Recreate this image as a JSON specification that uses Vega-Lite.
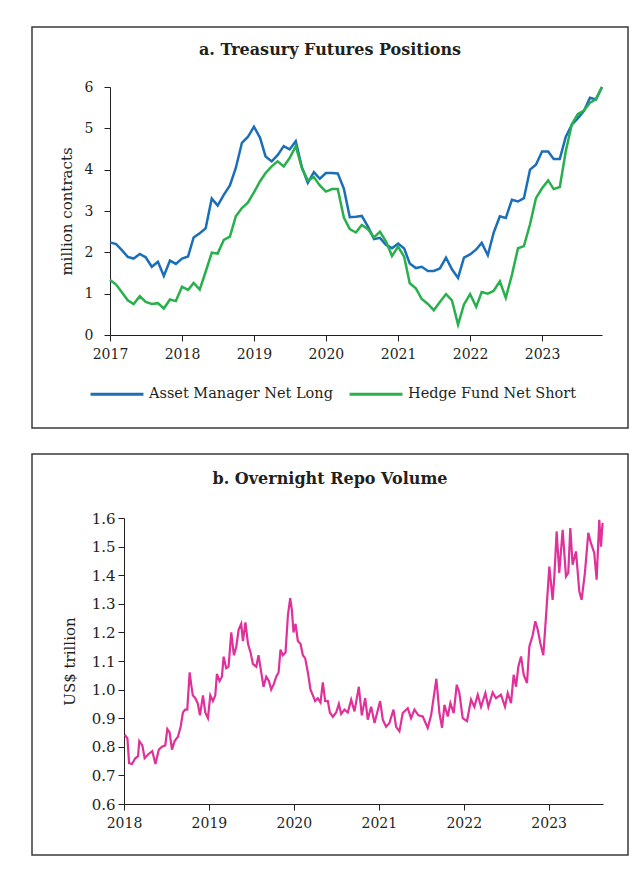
{
  "$schema": "https://vega.github.io/schema/vega-lite/v6.json",
  "background": "white",
  "padding": {"left": 31, "top": 26, "right": 5, "bottom": 5},
  "spacing": 24,
  "config": {
    "view": {"stroke": "#3a3a3a", "strokeWidth": 1.5},
    "font": "DejaVu Serif",
    "axis": {"labelFont": "DejaVu Serif", "titleFont": "DejaVu Serif", "labelColor": "#231f20", "titleColor": "#231f20", "domainColor": "#231f20", "tickColor": "#231f20", "grid": false, "titleFontWeight": "normal", "domainWidth": 1, "tickWidth": 1, "labelFlush": false},
    "title": {"font": "DejaVu Serif", "fontWeight": "bold", "color": "#231f20", "fontSize": 16, "anchor": "middle"}
  },
  "vconcat": [
    {
      "width": 596,
      "height": 401,
      "title": {"text": "a. Treasury Futures Positions", "offset": -44, "baseline": "alphabetic"},
      "data": {"values": [
        {"d": "2017-01-01", "Asset Manager Net Long": 2.24, "Hedge Fund Net Short": 1.33},
        {"d": "2017-02-01", "Asset Manager Net Long": 2.20, "Hedge Fund Net Short": 1.22},
        {"d": "2017-03-01", "Asset Manager Net Long": 2.06, "Hedge Fund Net Short": 1.04},
        {"d": "2017-04-01", "Asset Manager Net Long": 1.89, "Hedge Fund Net Short": 0.84},
        {"d": "2017-05-01", "Asset Manager Net Long": 1.85, "Hedge Fund Net Short": 0.75},
        {"d": "2017-06-01", "Asset Manager Net Long": 1.96, "Hedge Fund Net Short": 0.94},
        {"d": "2017-07-01", "Asset Manager Net Long": 1.88, "Hedge Fund Net Short": 0.80},
        {"d": "2017-08-01", "Asset Manager Net Long": 1.65, "Hedge Fund Net Short": 0.75},
        {"d": "2017-09-01", "Asset Manager Net Long": 1.77, "Hedge Fund Net Short": 0.77},
        {"d": "2017-10-01", "Asset Manager Net Long": 1.43, "Hedge Fund Net Short": 0.64},
        {"d": "2017-11-01", "Asset Manager Net Long": 1.80, "Hedge Fund Net Short": 0.86},
        {"d": "2017-12-01", "Asset Manager Net Long": 1.72, "Hedge Fund Net Short": 0.82},
        {"d": "2018-01-01", "Asset Manager Net Long": 1.85, "Hedge Fund Net Short": 1.17},
        {"d": "2018-02-01", "Asset Manager Net Long": 1.90, "Hedge Fund Net Short": 1.09},
        {"d": "2018-03-01", "Asset Manager Net Long": 2.36, "Hedge Fund Net Short": 1.26},
        {"d": "2018-04-01", "Asset Manager Net Long": 2.46, "Hedge Fund Net Short": 1.10},
        {"d": "2018-05-01", "Asset Manager Net Long": 2.58, "Hedge Fund Net Short": 1.53},
        {"d": "2018-06-01", "Asset Manager Net Long": 3.30, "Hedge Fund Net Short": 1.99},
        {"d": "2018-07-01", "Asset Manager Net Long": 3.13, "Hedge Fund Net Short": 1.97},
        {"d": "2018-08-01", "Asset Manager Net Long": 3.39, "Hedge Fund Net Short": 2.30},
        {"d": "2018-09-01", "Asset Manager Net Long": 3.62, "Hedge Fund Net Short": 2.38},
        {"d": "2018-10-01", "Asset Manager Net Long": 4.04, "Hedge Fund Net Short": 2.87},
        {"d": "2018-11-01", "Asset Manager Net Long": 4.65, "Hedge Fund Net Short": 3.07},
        {"d": "2018-12-01", "Asset Manager Net Long": 4.79, "Hedge Fund Net Short": 3.20},
        {"d": "2019-01-01", "Asset Manager Net Long": 5.04, "Hedge Fund Net Short": 3.45},
        {"d": "2019-02-01", "Asset Manager Net Long": 4.77, "Hedge Fund Net Short": 3.72},
        {"d": "2019-03-01", "Asset Manager Net Long": 4.32, "Hedge Fund Net Short": 3.92},
        {"d": "2019-04-01", "Asset Manager Net Long": 4.20, "Hedge Fund Net Short": 4.08},
        {"d": "2019-05-01", "Asset Manager Net Long": 4.35, "Hedge Fund Net Short": 4.20},
        {"d": "2019-06-01", "Asset Manager Net Long": 4.57, "Hedge Fund Net Short": 4.08},
        {"d": "2019-07-01", "Asset Manager Net Long": 4.49, "Hedge Fund Net Short": 4.28},
        {"d": "2019-08-01", "Asset Manager Net Long": 4.69, "Hedge Fund Net Short": 4.57},
        {"d": "2019-09-01", "Asset Manager Net Long": 4.06, "Hedge Fund Net Short": 4.04},
        {"d": "2019-10-01", "Asset Manager Net Long": 3.68, "Hedge Fund Net Short": 3.74},
        {"d": "2019-11-01", "Asset Manager Net Long": 3.94, "Hedge Fund Net Short": 3.82},
        {"d": "2019-12-01", "Asset Manager Net Long": 3.78, "Hedge Fund Net Short": 3.62},
        {"d": "2020-01-01", "Asset Manager Net Long": 3.92, "Hedge Fund Net Short": 3.47},
        {"d": "2020-02-01", "Asset Manager Net Long": 3.92, "Hedge Fund Net Short": 3.53},
        {"d": "2020-03-01", "Asset Manager Net Long": 3.91, "Hedge Fund Net Short": 3.53},
        {"d": "2020-04-01", "Asset Manager Net Long": 3.54, "Hedge Fund Net Short": 2.84},
        {"d": "2020-05-01", "Asset Manager Net Long": 2.85, "Hedge Fund Net Short": 2.56},
        {"d": "2020-06-01", "Asset Manager Net Long": 2.86, "Hedge Fund Net Short": 2.48},
        {"d": "2020-07-01", "Asset Manager Net Long": 2.88, "Hedge Fund Net Short": 2.66},
        {"d": "2020-08-01", "Asset Manager Net Long": 2.62, "Hedge Fund Net Short": 2.56},
        {"d": "2020-09-01", "Asset Manager Net Long": 2.32, "Hedge Fund Net Short": 2.36},
        {"d": "2020-10-01", "Asset Manager Net Long": 2.35, "Hedge Fund Net Short": 2.50},
        {"d": "2020-11-01", "Asset Manager Net Long": 2.18, "Hedge Fund Net Short": 2.26},
        {"d": "2020-12-01", "Asset Manager Net Long": 2.10, "Hedge Fund Net Short": 1.91},
        {"d": "2021-01-01", "Asset Manager Net Long": 2.21, "Hedge Fund Net Short": 2.14},
        {"d": "2021-02-01", "Asset Manager Net Long": 2.09, "Hedge Fund Net Short": 1.89},
        {"d": "2021-03-01", "Asset Manager Net Long": 1.73, "Hedge Fund Net Short": 1.25},
        {"d": "2021-04-01", "Asset Manager Net Long": 1.62, "Hedge Fund Net Short": 1.13},
        {"d": "2021-05-01", "Asset Manager Net Long": 1.65, "Hedge Fund Net Short": 0.87},
        {"d": "2021-06-01", "Asset Manager Net Long": 1.55, "Hedge Fund Net Short": 0.75},
        {"d": "2021-07-01", "Asset Manager Net Long": 1.55, "Hedge Fund Net Short": 0.60},
        {"d": "2021-08-01", "Asset Manager Net Long": 1.61, "Hedge Fund Net Short": 0.80},
        {"d": "2021-09-01", "Asset Manager Net Long": 1.87, "Hedge Fund Net Short": 0.99},
        {"d": "2021-10-01", "Asset Manager Net Long": 1.59, "Hedge Fund Net Short": 0.84},
        {"d": "2021-11-01", "Asset Manager Net Long": 1.38, "Hedge Fund Net Short": 0.25},
        {"d": "2021-12-01", "Asset Manager Net Long": 1.87, "Hedge Fund Net Short": 0.74},
        {"d": "2022-01-01", "Asset Manager Net Long": 1.95, "Hedge Fund Net Short": 0.99},
        {"d": "2022-02-01", "Asset Manager Net Long": 2.07, "Hedge Fund Net Short": 0.68},
        {"d": "2022-03-01", "Asset Manager Net Long": 2.23, "Hedge Fund Net Short": 1.04},
        {"d": "2022-04-01", "Asset Manager Net Long": 1.93, "Hedge Fund Net Short": 1.00},
        {"d": "2022-05-01", "Asset Manager Net Long": 2.48, "Hedge Fund Net Short": 1.07},
        {"d": "2022-06-01", "Asset Manager Net Long": 2.87, "Hedge Fund Net Short": 1.30},
        {"d": "2022-07-01", "Asset Manager Net Long": 2.83, "Hedge Fund Net Short": 0.90},
        {"d": "2022-08-01", "Asset Manager Net Long": 3.27, "Hedge Fund Net Short": 1.45},
        {"d": "2022-09-01", "Asset Manager Net Long": 3.23, "Hedge Fund Net Short": 2.10},
        {"d": "2022-10-01", "Asset Manager Net Long": 3.31, "Hedge Fund Net Short": 2.15},
        {"d": "2022-11-01", "Asset Manager Net Long": 4.00, "Hedge Fund Net Short": 2.68},
        {"d": "2022-12-01", "Asset Manager Net Long": 4.12, "Hedge Fund Net Short": 3.31},
        {"d": "2023-01-01", "Asset Manager Net Long": 4.44, "Hedge Fund Net Short": 3.55},
        {"d": "2023-02-01", "Asset Manager Net Long": 4.44, "Hedge Fund Net Short": 3.74},
        {"d": "2023-03-01", "Asset Manager Net Long": 4.26, "Hedge Fund Net Short": 3.53},
        {"d": "2023-04-01", "Asset Manager Net Long": 4.26, "Hedge Fund Net Short": 3.58},
        {"d": "2023-05-01", "Asset Manager Net Long": 4.79, "Hedge Fund Net Short": 4.44},
        {"d": "2023-06-01", "Asset Manager Net Long": 5.09, "Hedge Fund Net Short": 5.10},
        {"d": "2023-07-01", "Asset Manager Net Long": 5.24, "Hedge Fund Net Short": 5.34},
        {"d": "2023-08-01", "Asset Manager Net Long": 5.42, "Hedge Fund Net Short": 5.43},
        {"d": "2023-09-01", "Asset Manager Net Long": 5.74, "Hedge Fund Net Short": 5.62},
        {"d": "2023-10-01", "Asset Manager Net Long": 5.70, "Hedge Fund Net Short": 5.70},
        {"d": "2023-11-01", "Asset Manager Net Long": 6.00, "Hedge Fund Net Short": 6.00}
      ]},
      "transform": [{"fold": ["Asset Manager Net Long", "Hedge Fund Net Short"], "as": ["series", "value"]}],
      "mark": {"type": "line", "strokeWidth": 2.5, "clip": false},
      "encoding": {
        "x": {
          "field": "d", "type": "temporal",
          "scale": {"type": "utc", "domain": [{"year": 2017, "month": 1, "date": 1, "utc": true}, {"year": 2023, "month": 11, "date": 1, "utc": true}], "range": [78, 570], "nice": false},
          "axis": {"title": null, "offset": -93, "format": "%Y", "labelFontSize": 14, "tickSize": 6, "labelPadding": 6,
            "values": [{"year": 2017, "month": 1, "date": 1, "utc": true}, {"year": 2018, "month": 1, "date": 1, "utc": true}, {"year": 2019, "month": 1, "date": 1, "utc": true}, {"year": 2020, "month": 1, "date": 1, "utc": true}, {"year": 2021, "month": 1, "date": 1, "utc": true}, {"year": 2022, "month": 1, "date": 1, "utc": true}, {"year": 2023, "month": 1, "date": 1, "utc": true}]}
        },
        "y": {
          "field": "value", "type": "quantitative",
          "scale": {"domain": [0, 6], "range": [308, 60], "nice": false, "zero": false},
          "axis": {"title": "million contracts", "offset": -78, "values": [0, 1, 2, 3, 4, 5, 6], "labelFontSize": 14, "titleFontSize": 15, "tickSize": 6, "labelPadding": 11, "titlePadding": 10}
        },
        "color": {
          "field": "series", "type": "nominal",
          "scale": {"domain": ["Asset Manager Net Long", "Hedge Fund Net Short"], "range": ["#1b6fb8", "#27b04b"]},
          "legend": {"title": null, "orient": "none", "legendX": 57, "legendY": 339, "direction": "horizontal", "symbolType": "stroke", "symbolSize": 2800, "symbolStrokeWidth": 3, "labelFontSize": 14.5, "labelFont": "DejaVu Serif", "labelColor": "#231f20", "columnPadding": 10, "labelOffset": 4, "labelLimit": 300}
        }
      }
    },
    {
      "width": 596,
      "height": 401,
      "title": {"text": "b. Overnight Repo Volume", "offset": -46, "baseline": "alphabetic"},
      "data": {"values": [
        {"t": 2018.008, "v": 0.842}, {"t": 2018.04, "v": 0.83}, {"t": 2018.06, "v": 0.743}, {"t": 2018.094, "v": 0.74},
        {"t": 2018.133, "v": 0.76}, {"t": 2018.165, "v": 0.767}, {"t": 2018.18, "v": 0.82}, {"t": 2018.216, "v": 0.805},
        {"t": 2018.243, "v": 0.76}, {"t": 2018.29, "v": 0.775}, {"t": 2018.333, "v": 0.785}, {"t": 2018.37, "v": 0.74},
        {"t": 2018.41, "v": 0.79}, {"t": 2018.447, "v": 0.80}, {"t": 2018.486, "v": 0.805}, {"t": 2018.51, "v": 0.862},
        {"t": 2018.537, "v": 0.85}, {"t": 2018.565, "v": 0.79}, {"t": 2018.596, "v": 0.82}, {"t": 2018.635, "v": 0.835},
        {"t": 2018.667, "v": 0.87}, {"t": 2018.694, "v": 0.92}, {"t": 2018.72, "v": 0.93}, {"t": 2018.745, "v": 0.93},
        {"t": 2018.773, "v": 1.06}, {"t": 2018.79, "v": 1.02}, {"t": 2018.81, "v": 0.98}, {"t": 2018.84, "v": 0.97},
        {"t": 2018.87, "v": 0.95}, {"t": 2018.894, "v": 0.91}, {"t": 2018.93, "v": 0.98}, {"t": 2018.957, "v": 0.92},
        {"t": 2018.988, "v": 0.90}, {"t": 2019.016, "v": 0.98}, {"t": 2019.047, "v": 0.96}, {"t": 2019.075, "v": 0.98},
        {"t": 2019.094, "v": 1.055}, {"t": 2019.125, "v": 1.03}, {"t": 2019.153, "v": 1.045}, {"t": 2019.173, "v": 1.115},
        {"t": 2019.204, "v": 1.075}, {"t": 2019.231, "v": 1.08}, {"t": 2019.263, "v": 1.2}, {"t": 2019.294, "v": 1.12},
        {"t": 2019.322, "v": 1.15}, {"t": 2019.35, "v": 1.21}, {"t": 2019.38, "v": 1.23}, {"t": 2019.4, "v": 1.17},
        {"t": 2019.43, "v": 1.235}, {"t": 2019.46, "v": 1.16}, {"t": 2019.49, "v": 1.13}, {"t": 2019.518, "v": 1.09},
        {"t": 2019.557, "v": 1.08}, {"t": 2019.584, "v": 1.12}, {"t": 2019.616, "v": 1.06}, {"t": 2019.643, "v": 1.01},
        {"t": 2019.675, "v": 1.045}, {"t": 2019.706, "v": 1.03}, {"t": 2019.733, "v": 1.0}, {"t": 2019.765, "v": 1.02},
        {"t": 2019.792, "v": 1.045}, {"t": 2019.82, "v": 1.06}, {"t": 2019.843, "v": 1.14}, {"t": 2019.87, "v": 1.12},
        {"t": 2019.902, "v": 1.13}, {"t": 2019.93, "v": 1.26}, {"t": 2019.957, "v": 1.32}, {"t": 2019.976, "v": 1.28},
        {"t": 2019.996, "v": 1.2}, {"t": 2020.02, "v": 1.23}, {"t": 2020.047, "v": 1.17}, {"t": 2020.078, "v": 1.16},
        {"t": 2020.106, "v": 1.12}, {"t": 2020.133, "v": 1.11}, {"t": 2020.165, "v": 1.06}, {"t": 2020.196, "v": 1.0},
        {"t": 2020.224, "v": 0.98}, {"t": 2020.25, "v": 0.96}, {"t": 2020.282, "v": 0.97}, {"t": 2020.314, "v": 0.955},
        {"t": 2020.341, "v": 1.025}, {"t": 2020.369, "v": 0.96}, {"t": 2020.4, "v": 0.96}, {"t": 2020.424, "v": 0.92},
        {"t": 2020.459, "v": 0.905}, {"t": 2020.498, "v": 0.92}, {"t": 2020.53, "v": 0.95}, {"t": 2020.557, "v": 0.915},
        {"t": 2020.596, "v": 0.93}, {"t": 2020.635, "v": 0.92}, {"t": 2020.675, "v": 0.965}, {"t": 2020.714, "v": 0.924},
        {"t": 2020.765, "v": 1.01}, {"t": 2020.8, "v": 0.91}, {"t": 2020.84, "v": 0.97}, {"t": 2020.87, "v": 0.895},
        {"t": 2020.91, "v": 0.94}, {"t": 2020.95, "v": 0.883}, {"t": 2021.016, "v": 0.96}, {"t": 2021.047, "v": 0.895},
        {"t": 2021.086, "v": 0.87}, {"t": 2021.125, "v": 0.883}, {"t": 2021.173, "v": 0.93}, {"t": 2021.204, "v": 0.87},
        {"t": 2021.243, "v": 0.854}, {"t": 2021.282, "v": 0.918}, {"t": 2021.341, "v": 0.935}, {"t": 2021.38, "v": 0.9},
        {"t": 2021.42, "v": 0.93}, {"t": 2021.467, "v": 0.91}, {"t": 2021.518, "v": 0.906}, {"t": 2021.576, "v": 0.866},
        {"t": 2021.616, "v": 0.91}, {"t": 2021.678, "v": 1.038}, {"t": 2021.714, "v": 0.918}, {"t": 2021.745, "v": 0.866},
        {"t": 2021.773, "v": 0.947}, {"t": 2021.812, "v": 0.906}, {"t": 2021.843, "v": 0.953}, {"t": 2021.882, "v": 0.918},
        {"t": 2021.918, "v": 1.017}, {"t": 2021.949, "v": 0.988}, {"t": 2021.988, "v": 0.9}, {"t": 2022.039, "v": 0.89},
        {"t": 2022.086, "v": 0.965}, {"t": 2022.125, "v": 0.94}, {"t": 2022.165, "v": 0.982}, {"t": 2022.204, "v": 0.94},
        {"t": 2022.255, "v": 0.988}, {"t": 2022.29, "v": 0.94}, {"t": 2022.341, "v": 0.99}, {"t": 2022.38, "v": 0.97},
        {"t": 2022.439, "v": 0.982}, {"t": 2022.486, "v": 0.94}, {"t": 2022.518, "v": 0.988}, {"t": 2022.557, "v": 0.953},
        {"t": 2022.588, "v": 1.052}, {"t": 2022.616, "v": 1.01}, {"t": 2022.643, "v": 1.08}, {"t": 2022.675, "v": 1.116},
        {"t": 2022.706, "v": 1.052}, {"t": 2022.745, "v": 1.023}, {"t": 2022.773, "v": 1.151}, {"t": 2022.812, "v": 1.19},
        {"t": 2022.843, "v": 1.239}, {"t": 2022.871, "v": 1.21}, {"t": 2022.902, "v": 1.163}, {"t": 2022.937, "v": 1.12},
        {"t": 2022.969, "v": 1.256}, {"t": 2023.008, "v": 1.43}, {"t": 2023.047, "v": 1.314}, {"t": 2023.067, "v": 1.396},
        {"t": 2023.094, "v": 1.553}, {"t": 2023.125, "v": 1.408}, {"t": 2023.165, "v": 1.559}, {"t": 2023.204, "v": 1.396},
        {"t": 2023.231, "v": 1.408}, {"t": 2023.255, "v": 1.565}, {"t": 2023.282, "v": 1.437}, {"t": 2023.322, "v": 1.483},
        {"t": 2023.361, "v": 1.344}, {"t": 2023.388, "v": 1.314}, {"t": 2023.427, "v": 1.408}, {"t": 2023.467, "v": 1.548},
        {"t": 2023.498, "v": 1.512}, {"t": 2023.537, "v": 1.478}, {"t": 2023.565, "v": 1.384}, {"t": 2023.596, "v": 1.594},
        {"t": 2023.616, "v": 1.5}, {"t": 2023.635, "v": 1.583}
      ]},
      "mark": {"type": "line", "strokeWidth": 2.2, "color": "#e0309a", "clip": false},
      "encoding": {
        "x": {
          "field": "t", "type": "quantitative",
          "scale": {"domain": [2018, 2023.64], "range": [92, 571], "nice": false, "zero": false},
          "axis": {"title": null, "offset": -51, "format": "d", "values": [2018, 2019, 2020, 2021, 2022, 2023], "labelFontSize": 14, "tickSize": 6, "labelPadding": 6}
        },
        "y": {
          "field": "v", "type": "quantitative",
          "scale": {"domain": [0.6, 1.6], "range": [350, 64], "nice": false, "zero": false},
          "axis": {"title": "US$ trillion", "offset": -92, "format": ".1f", "values": [0.6, 0.7, 0.8, 0.9, 1.0, 1.1, 1.2, 1.3, 1.4, 1.5, 1.6], "labelFontSize": 15, "titleFontSize": 15, "tickSize": 6, "labelPadding": 3, "titlePadding": 14}
        }
      }
    }
  ]
}
